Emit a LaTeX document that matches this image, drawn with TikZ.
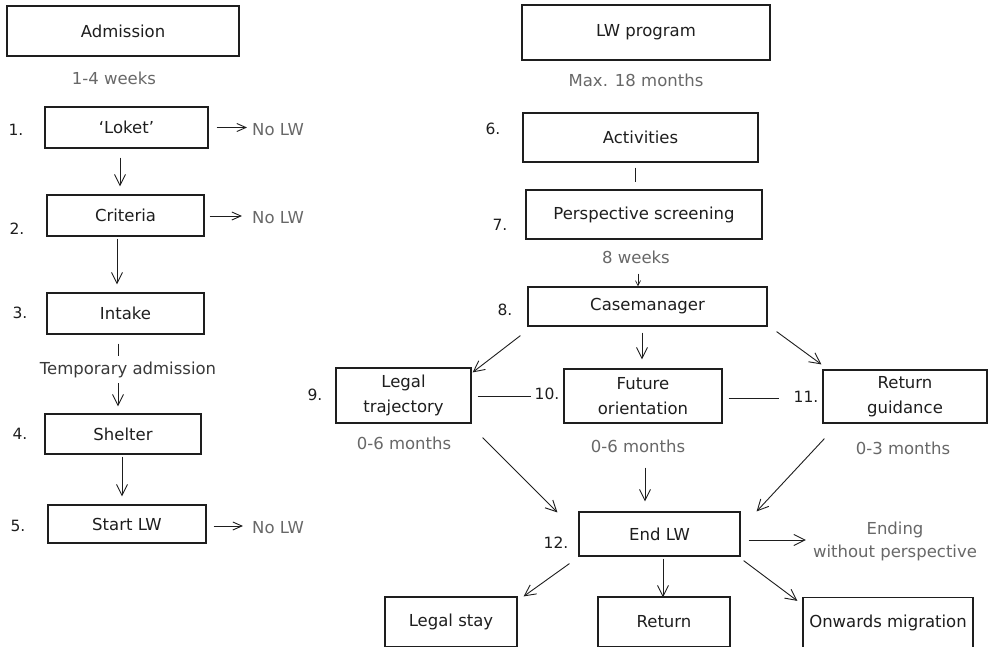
\documentclass[tikz,border=0pt]{standalone}
\usepackage{fontspec}
\setmainfont{DejaVu Sans}
\usetikzlibrary{arrows.meta,calc}
\definecolor{ink}{HTML}{1E1E1E}
\definecolor{soft}{HTML}{686868}
\definecolor{mid}{HTML}{3A3A3A}
\begin{document}
\begin{tikzpicture}[x=1pt,y=-1pt,
 box/.style={draw=ink,line width=1.2pt,inner sep=0pt,align=center,font=\fontsize{16.5}{25}\selectfont,text=ink},
 num/.style={inner sep=0pt,font=\fontsize{15.5}{17}\selectfont,text=ink},
 lbl/.style={inner sep=0pt,font=\fontsize{16.5}{23}\selectfont,text=soft,align=center},
 conn/.style={draw=ink,line width=0.9pt},
 arr/.style={conn,-{Straight Barb[length=11pt,width=11pt]}},
 sarr/.style={conn,-{Straight Barb[length=9pt,width=8pt]}},
 tiny/.style={conn,line width=0.7pt,-{Straight Barb[length=5pt,width=5pt]}},
]
\clip (0,0) rectangle (992,646);
\fill[white] (0,0) rectangle (992,646);

% ---------- left column ----------
\node[box,minimum width=232pt,minimum height=50pt] (adm) at (123,31) {Admission};
\node[lbl] (w14) at (114,78) {1-4 weeks};

\node[box,minimum width=163pt,minimum height=41pt] (loket) at (126.5,127.5) {`Loket'};
\node[num] (n1) at (16,130) {1.};
\node[lbl] (no1) at (278,130) {No LW};

\node[box,minimum width=157pt,minimum height=41pt] (crit) at (125.5,215.5) {Criteria};
\node[num] (n2) at (17,229) {2.};
\node[lbl] (no2) at (278,218) {No LW};

\node[box,minimum width=157pt,minimum height=41pt] (intake) at (125.5,313.5) {Intake};
\node[num] (n3) at (20,313) {3.};

\node[lbl,text=mid] (tmp) at (128,370) {Temporary admission};

\node[box,minimum width=156pt,minimum height=40pt] (shelter) at (123,434) {Shelter};
\node[num] (n4) at (20,434) {4.};

\node[box,minimum width=158pt,minimum height=38pt] (start) at (127,524) {Start LW};
\node[num] (n5) at (18,526) {5.};
\node[lbl] (no3) at (278,528) {No LW};

\draw[sarr] ($(loket.east)+(8,0)$) -- ($(no1.west |- loket.east)+(-5,0)$);
\draw[sarr] ($(crit.east)+(5,0.5)$) -- ($(no2.west |- crit.east)+(-10,0.5)$);
\draw[sarr] ($(start.east)+(7,2)$) -- ($(no3.west |- start.east)+(-9,2)$);
\draw[arr] ($(loket.south)+(-6.5,9)$) -- ($(crit.north)+(-5.5,-8)$);
\draw[arr] ($(crit.south)+(-8.5,2)$) -- ($(intake.north)+(-8.5,-8)$);
\draw[conn] ($(intake.south)+(-7.5,9)$) -- ($(tmp.north)+(-10,-6)$);
\draw[arr] ($(tmp.south)+(-10,5)$) -- ($(shelter.north)+(-5,-7)$);
\draw[arr] ($(shelter.south)+(-1,2)$) -- ($(start.north)+(-5,-8)$);

% ---------- right part ----------
\node[box,minimum width=248pt,minimum height=55pt] (lwp) at (646,32.5) {LW program};
\node[lbl] (m18) at (636,80) {Max. 18 months};

\node[box,minimum width=235pt,minimum height=49pt] (act) at (640.5,137.5) {Activities};
\node[num] (n6) at (493,129) {6.};

\node[box,minimum width=236pt,minimum height=49pt] (ps) at (644,214.5) {Perspective screening};
\node[num] (n7) at (500,225) {7.};
\node[lbl] (w8) at (636,257) {8 weeks};

\node[box,minimum width=239pt,minimum height=39pt] (cm) at (647.5,306.5) {Casemanager};
\node[num] (n8) at (505,310) {8.};

\node[box,minimum width=135pt,minimum height=55pt] (legal) at (403.5,395.5) {Legal\\trajectory};
\node[num] (n9) at (315,395) {9.};
\node[lbl] (l06) at (404,443) {0-6 months};

\node[box,minimum width=158pt,minimum height=54pt] (fut) at (643,396) {Future\\orientation};
\node[num] (n10) at (547,394) {10.};
\node[lbl] (f06) at (638,446) {0-6 months};

\node[box,minimum width=164pt,minimum height=53pt] (retg) at (905,396.5) {Return\\guidance};
\node[num] (n11) at (806,397) {11.};
\node[lbl] (r03) at (903,448) {0-3 months};

\node[box,minimum width=161pt,minimum height=44pt] (endlw) at (659.5,534) {End LW};
\node[num] (n12) at (556,543) {12.};
\node[lbl] (ending) at (895,541) {Ending\\without perspective};

\node[box,minimum width=132pt,minimum height=50pt] (lstay) at (451,622) {Legal stay};
\node[box,minimum width=132pt,minimum height=50pt] (ret) at (664,622) {Return};
\node[box,minimum width=170pt,minimum height=50pt] (onw) at (888,622.5) {Onwards migration};

\draw[conn] ($(act.south)+(-5.5,5)$) -- ($(ps.north)+(-9,-7)$);
\draw[tiny] ($(w8.south)+(2,10)$) -- ($(cm.north)+(-9.5,0)$);
\draw[arr] ($(cm.south west)+(-7,9)$) -- ($(legal.north east)+(1,5)$);
\draw[arr] ($(cm.south)+(-5.5,6)$) -- ($(fut.north)+(-1,-9)$);
\draw[arr] ($(cm.south east)+(9,5)$) -- ($(retg.north west)+(-1,-5)$);
\draw[conn] ($(legal.east)+(6,0.5)$) -- ($(n10.west |- legal.east)+(-3,0.5)$);
\draw[conn] ($(fut.east)+(6,2)$) -- ($(n11.west |- fut.east)+(-14,2)$);
\draw[arr] ($(legal.south east)+(11,14)$) -- ($(endlw.north west)+(-21,1)$);
\draw[arr] ($(fut.south)+(2,44)$) -- ($(endlw.north)+(-14.5,-10)$);
\draw[arr] ($(retg.south west)+(2,15)$) -- ($(endlw.north east)+(16,0)$);
\draw[arr] ($(endlw.east)+(8,6)$) -- ($(ending.west |- endlw.east)+(-7,6)$);
\draw[arr] ($(endlw.south west)+(-9,7)$) -- ($(lstay.north east)+(6,0)$);
\draw[arr] ($(endlw.south)+(3.5,2)$) -- ($(ret.north)+(-1,1)$);
\draw[arr] ($(endlw.south east)+(3,4)$) -- ($(onw.north west)+(-5,4)$);
\end{tikzpicture}
\end{document}
